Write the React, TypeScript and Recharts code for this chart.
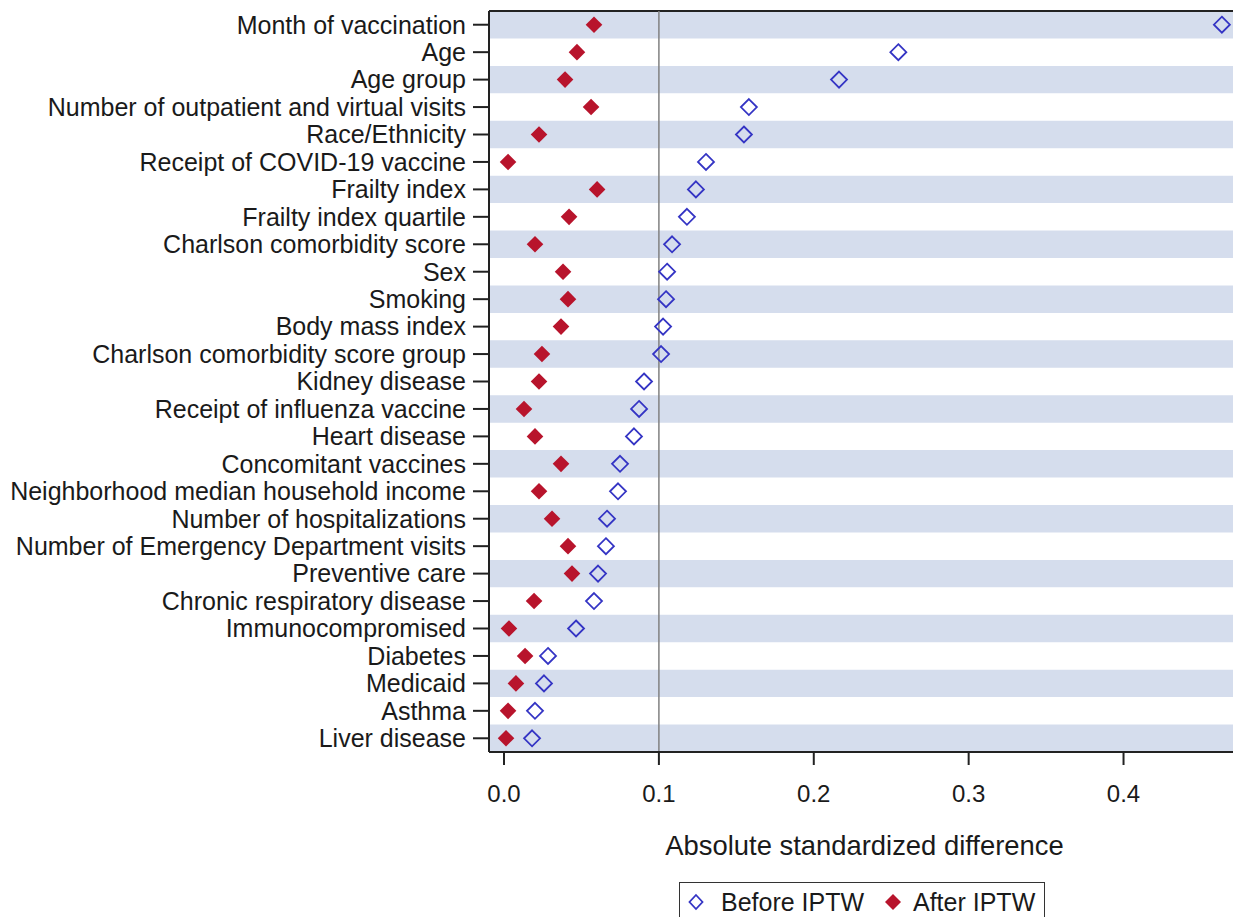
import React from "react";
import {
  ScatterChart,
  Scatter,
  XAxis,
  YAxis,
  ReferenceArea,
  ReferenceLine,
  Label,
} from "recharts";

const categories = [
  "Month of vaccination",
  "Age",
  "Age group",
  "Number of outpatient and virtual visits",
  "Race/Ethnicity",
  "Receipt of COVID-19 vaccine",
  "Frailty index",
  "Frailty index quartile",
  "Charlson comorbidity score",
  "Sex",
  "Smoking",
  "Body mass index",
  "Charlson comorbidity score group",
  "Kidney disease",
  "Receipt of influenza vaccine",
  "Heart disease",
  "Concomitant vaccines",
  "Neighborhood median household income",
  "Number of hospitalizations",
  "Number of Emergency Department visits",
  "Preventive care",
  "Chronic respiratory disease",
  "Immunocompromised",
  "Diabetes",
  "Medicaid",
  "Asthma",
  "Liver disease",
];

const beforeIptw = [
  0.4635, 0.2546, 0.2163, 0.1581, 0.1549, 0.1304, 0.1239, 0.1181, 0.1085,
  0.1053, 0.1046, 0.1027, 0.1014, 0.0904, 0.0872, 0.0839, 0.0749, 0.0736,
  0.0665, 0.0658, 0.0607, 0.0581, 0.0465, 0.0284, 0.0258, 0.02, 0.0181,
];

const afterIptw = [
  0.0581, 0.0471, 0.0394, 0.0562, 0.0226, 0.0026, 0.0601, 0.042, 0.02,
  0.0381, 0.0413, 0.0368, 0.0245, 0.0226, 0.0129, 0.02, 0.0368, 0.0226,
  0.031, 0.0413, 0.0439, 0.0194, 0.0032, 0.0136, 0.0077, 0.0026, 0.0013,
];

const xTicks = [0, 0.1, 0.2, 0.3, 0.4];

const BLUE = "#3434C4";
const RED = "#B8142C";
const BAND = "#D5DDED";
const FONT = "'Liberation Sans', Arial, sans-serif";

const beforeData = categories.map((name, i) => ({ name, row: i, value: beforeIptw[i] }));
const afterData = categories.map((name, i) => ({ name, row: i, value: afterIptw[i] }));
const rowTicks = categories.map((_, i) => i);

// open diamond for "before", filled one for "after"
const OpenDiamond = (props: any) => {
  const { cx, cy } = props;
  const r = 8;
  return (
    <polygon
      points={`${cx},${cy - r} ${cx + r},${cy} ${cx},${cy + r} ${cx - r},${cy}`}
      fill="none"
      stroke={BLUE}
      strokeWidth={1.8}
    />
  );
};

const FilledDiamond = (props: any) => {
  const { cx, cy } = props;
  const r = 8.3;
  return (
    <polygon
      points={`${cx},${cy - r} ${cx + r},${cy} ${cx},${cy + r} ${cx - r},${cy}`}
      fill={RED}
    />
  );
};

export default function App() {
  return (
    <div
      style={{
        position: "absolute",
        left: 0,
        top: 0,
        width: 1233,
        height: 917,
        overflow: "hidden",
        background: "#fff",
        fontFamily: FONT,
      }}
    >
      <ScatterChart
        width={1245}
        height={917}
        margin={{ top: 11, right: 5, left: 0, bottom: 55 }}
      >
        {categories.map((c, i) =>
          i % 2 === 0 ? (
            <ReferenceArea
              key={c}
              y1={i - 0.5}
              y2={i + 0.5}
              fill={BAND}
              fillOpacity={1}
              stroke="none"
            />
          ) : null
        )}
        <XAxis
          type="number"
          dataKey="value"
          domain={[-0.0097, 0.4752]}
          ticks={xTicks}
          tickFormatter={(v: number) => v.toFixed(1)}
          allowDataOverflow
          height={110}
          tickSize={13}
          tickMargin={20}
          stroke="#222"
          strokeWidth={2}
          tick={{ fill: "#1a1a1a", fontSize: 24, fontFamily: FONT }}
        >
          <Label
            value="Absolute standardized difference"
            position="insideBottom"
            offset={7}
            fill="#1a1a1a"
            fontSize={27.4}
            fontFamily={FONT}
          />
        </XAxis>
        <YAxis
          type="number"
          dataKey="row"
          domain={[-0.5, categories.length - 0.5]}
          reversed
          ticks={rowTicks}
          interval={0}
          tickFormatter={(i: number) => categories[i]}
          width={489}
          tickSize={16}
          tickMargin={7}
          stroke="#222"
          strokeWidth={2}
          tick={{ fill: "#1a1a1a", fontSize: 25, fontFamily: FONT }}
        />
        <ReferenceLine y={-0.5} stroke="#222" strokeWidth={2} />
        <ReferenceLine x={0.1} stroke="#808080" strokeWidth={1.5} />
        <Scatter
          name="Before IPTW"
          data={beforeData}
          shape={<OpenDiamond />}
          isAnimationActive={false}
        />
        <Scatter
          name="After IPTW"
          data={afterData}
          shape={<FilledDiamond />}
          isAnimationActive={false}
        />
      </ScatterChart>

      <div
        style={{
          position: "absolute",
          left: 679,
          top: 882,
          width: 366,
          height: 50,
          border: "1.5px solid #333",
          boxSizing: "border-box",
          fontSize: 25,
          color: "#1a1a1a",
        }}
      >
        <svg
          width={20}
          height={20}
          style={{ position: "absolute", left: 6, top: 9 }}
        >
          <polygon points="10,3 16.5,10 10,17 3.5,10" fill="none" stroke={BLUE} strokeWidth={1.8} />
        </svg>
        <span style={{ position: "absolute", left: 41, top: 5, lineHeight: "28px" }}>
          Before IPTW
        </span>
        <svg
          width={20}
          height={20}
          style={{ position: "absolute", left: 203, top: 9 }}
        >
          <polygon points="10,2 18,10 10,18 2,10" fill={RED} />
        </svg>
        <span style={{ position: "absolute", left: 233, top: 5, lineHeight: "28px" }}>
          After IPTW
        </span>
      </div>
    </div>
  );
}
